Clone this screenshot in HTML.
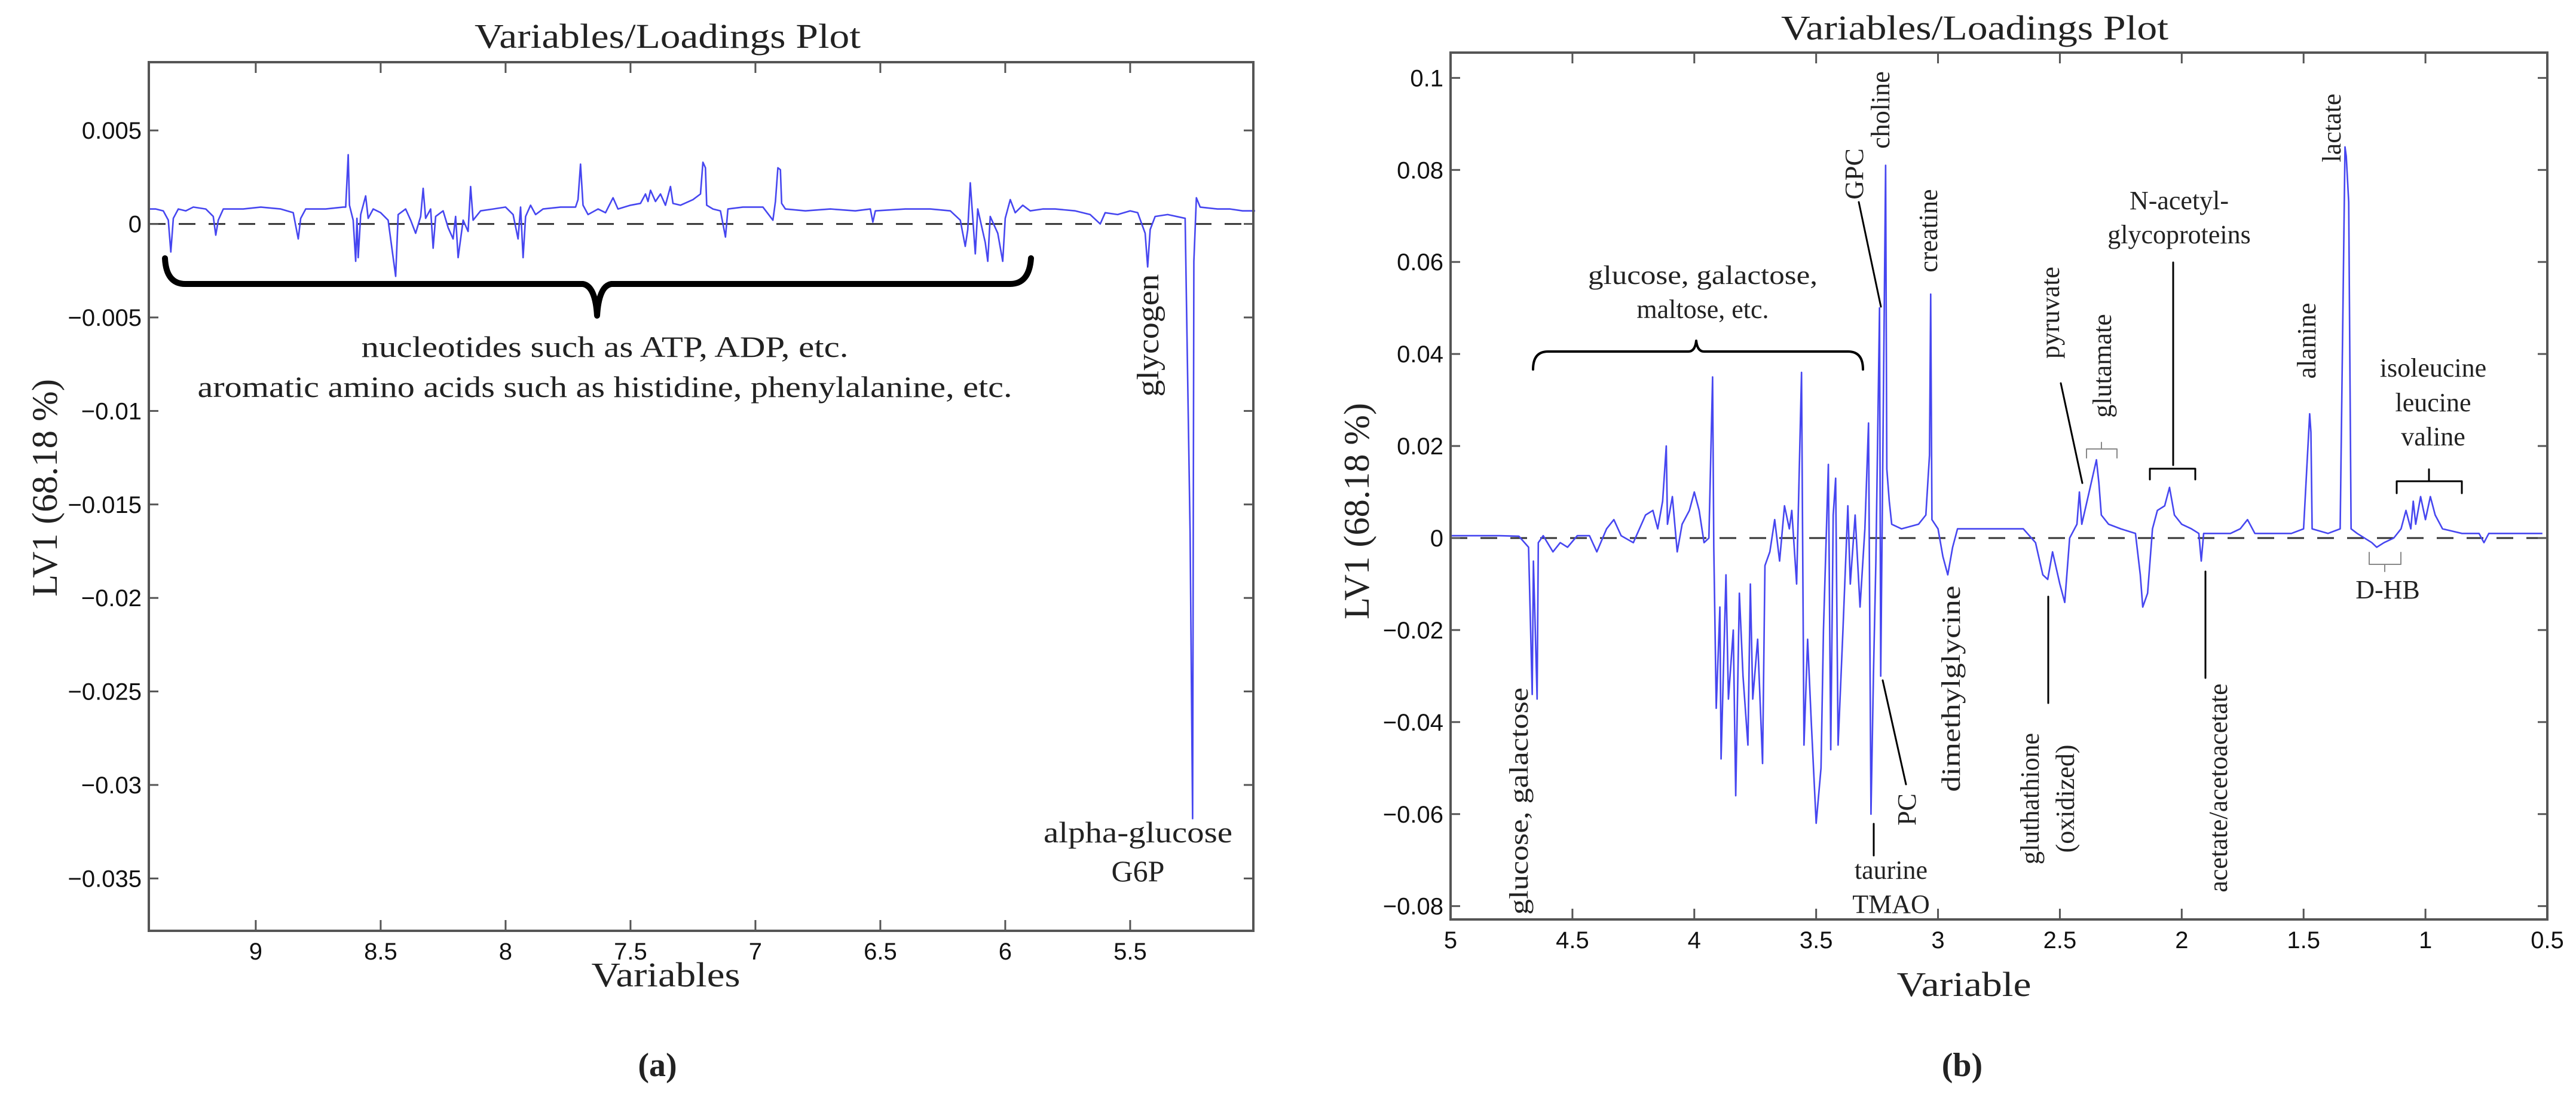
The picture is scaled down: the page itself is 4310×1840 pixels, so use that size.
<!DOCTYPE html>
<html><head><meta charset="utf-8"><style>
html,body{margin:0;padding:0;background:#fff;}
svg{display:block;}
.tk{font-family:"Liberation Sans",sans-serif;font-size:40px;fill:#111;}
.sf{font-family:"Liberation Serif",serif;fill:#222;}
</style></head><body>
<svg id="fig" width="4310" height="1840" viewBox="0 0 4310 1840" xmlns="http://www.w3.org/2000/svg">
<rect width="4310" height="1840" fill="#fff"/>
<g id="pa"></g>
<g id="pb"></g>
</svg>
<script>
const leftX=[9.43,9.40,9.37,9.35,9.34,9.33,9.31,9.28,9.25,9.20,9.17,9.16,9.15,9.13,9.05,8.98,8.90,8.85,8.83,8.82,8.80,8.72,8.65,8.64,8.63,8.625,8.61,8.60,8.595,8.59,8.58,8.56,8.55,8.53,8.50,8.47,8.44,8.43,8.40,8.38,8.36,8.34,8.33,8.32,8.30,8.29,8.28,8.25,8.23,8.21,8.20,8.19,8.17,8.15,8.14,8.13,8.10,8.05,8.00,7.97,7.95,7.94,7.93,7.92,7.90,7.88,7.85,7.78,7.72,7.71,7.70,7.69,7.67,7.63,7.60,7.57,7.55,7.50,7.46,7.44,7.43,7.42,7.40,7.38,7.36,7.34,7.33,7.30,7.25,7.22,7.21,7.20,7.195,7.17,7.14,7.12,7.11,7.05,6.97,6.93,6.92,6.91,6.90,6.895,6.88,6.80,6.70,6.60,6.54,6.53,6.52,6.40,6.30,6.22,6.18,6.16,6.15,6.14,6.13,6.12,6.11,6.08,6.07,6.06,6.03,6.01,6.00,5.98,5.96,5.93,5.90,5.85,5.80,5.72,5.66,5.62,5.60,5.55,5.50,5.47,5.44,5.43,5.42,5.40,5.35,5.28,5.26,5.25,5.245,5.235,5.22,5.15,5.10,5.05,5.00];
const leftY=[.0008,.0008,.0007,.0002,-.0015,.0003,.0008,.0007,.0009,.0008,.0004,-.0006,.0002,.0008,.0008,.0009,.0008,.0006,-.0008,.0003,.0008,.0008,.0009,.0009,.0037,.0010,.0002,-.002,.0003,-.0018,.0005,.0015,.0003,.0008,.0006,.0002,-.0028,.0005,.0008,.0002,-.0005,.0004,.0019,.0003,.0008,-.0013,.0004,.0007,-.0002,-.0008,.0004,-.0018,.0002,-.0004,.0020,.0002,.0007,.0008,.0009,.0005,-.0008,.0009,-.0018,.0004,.0010,.0005,.0008,.0009,.0009,.0013,.0032,.0010,.0005,.0008,.0006,.0014,.0008,.0010,.0011,.0016,.0012,.0018,.0012,.0016,.0010,.0020,.0011,.0010,.0013,.0016,.0033,.0030,.0010,.0008,.0007,-.0007,.0008,.0009,.0009,.0002,.0012,.0030,.0029,.0011,.0008,.0007,.0008,.0007,.0008,.0001,.0007,.0008,.0008,.0007,.0002,-.0012,-.0003,.0022,.0003,-.0016,.0008,-.0010,-.0020,.0004,-.0005,-.0020,.0003,.0013,.0006,.0010,.0007,.0008,.0008,.0007,.0005,.0000,.0006,.0005,.0007,.0006,-.0005,-.0023,-.0003,.0004,.0005,.0003,-.0165,-.0318,-.002,.0014,.0009,.0008,.0008,.0007,.0007];
const leftYTicks=[0.005,0,-0.005,-0.01,-0.015,-0.02,-0.025,-0.03,-0.035];
const leftYTickLabels=["0.005","0","\u22120.005","\u22120.01","\u22120.015","\u22120.02","\u22120.025","\u22120.03","\u22120.035"];
const leftXTicks=[9,8.5,8,7.5,7,6.5,6,5.5];
const leftXTickLabels=["9","8.5","8","7.5","7","6.5","6","5.5"];

const rightX=[5.00,4.80,4.72,4.68,4.665,4.66,4.645,4.64,4.62,4.58,4.55,4.52,4.48,4.43,4.40,4.36,4.33,4.30,4.25,4.20,4.17,4.15,4.13,4.115,4.11,4.09,4.07,4.05,4.02,4.00,3.98,3.96,3.94,3.925,3.92,3.91,3.895,3.89,3.87,3.86,3.84,3.83,3.815,3.80,3.78,3.77,3.76,3.74,3.72,3.71,3.69,3.67,3.65,3.63,3.61,3.60,3.58,3.56,3.55,3.535,3.52,3.50,3.48,3.47,3.45,3.44,3.43,3.42,3.41,3.39,3.37,3.36,3.34,3.32,3.30,3.285,3.275,3.265,3.255,3.24,3.235,3.215,3.21,3.20,3.19,3.15,3.08,3.05,3.035,3.03,3.025,3.00,2.98,2.96,2.94,2.92,2.80,2.65,2.60,2.57,2.55,2.53,2.50,2.48,2.46,2.43,2.42,2.41,2.38,2.35,2.34,2.33,2.30,2.25,2.19,2.17,2.16,2.14,2.12,2.10,2.07,2.05,2.03,2.00,1.96,1.93,1.92,1.91,1.80,1.76,1.73,1.70,1.55,1.50,1.475,1.47,1.465,1.40,1.35,1.33,1.325,1.315,1.305,1.28,1.22,1.20,1.17,1.13,1.10,1.08,1.06,1.05,1.04,1.02,1.00,0.98,0.96,0.93,0.85,0.78,0.76,0.74,0.52];
const rightY=[.0005,.0005,.0004,-.002,-.034,-.005,-.035,-.001,.0005,-.003,-.001,-.002,.0005,.0005,-.003,.002,.004,.0005,-.001,.005,.006,.002,.008,.020,.003,.009,-.003,.003,.006,.010,.006,-.001,.000,.035,-.002,-.037,-.015,-.048,-.008,-.035,-.020,-.056,-.012,-.030,-.045,-.010,-.035,-.022,-.049,-.006,-.003,.004,-.005,.007,.002,.006,-.010,.036,-.045,-.022,-.040,-.062,-.050,-.020,.016,-.046,.005,.013,-.045,-.020,.007,-.010,.005,-.015,.002,.025,-.060,-.030,-.005,.050,-.030,.081,.015,.008,.003,.002,.003,.005,.018,.053,.004,.002,-.004,-.008,-.002,.002,.002,.002,-.001,-.008,-.009,-.003,-.010,-.014,.000,.003,.010,.003,.010,.017,.012,.005,.003,.002,.001,-.008,-.015,-.012,.002,.006,.007,.011,.005,.003,.002,.001,-.005,.001,.001,.002,.004,.001,.001,.002,.027,.023,.002,.001,.002,.085,.083,.073,.002,.001,-.001,-.002,-.001,.000,.002,.006,.002,.008,.003,.009,.004,.009,.005,.002,.001,.001,-.001,.001,.001];
const rightYTicks=[0.1,0.08,0.06,0.04,0.02,0,-0.02,-0.04,-0.06,-0.08];
const rightYTickLabels=["0.1","0.08","0.06","0.04","0.02","0","\u22120.02","\u22120.04","\u22120.06","\u22120.08"];
const rightXTicks=[5,4.5,4,3.5,3,2.5,2,1.5,1,0.5];
const rightXTickLabels=["5","4.5","4","3.5","3","2.5","2","1.5","1","0.5"];

const NS="http://www.w3.org/2000/svg";
function mk(parent,tag,attrs,text){const e=document.createElementNS(NS,tag);for(const k in attrs)e.setAttribute(k,attrs[k]);if(text!==undefined)e.textContent=text;parent.appendChild(e);return e;}

function panel(g,box,xd,yd,X,Y,xt,xtl,yt,ytl,name){
  const sx=v=>box.l+(xd[0]-v)/(xd[0]-xd[1])*(box.r-box.l);
  const sy=v=>box.t+(yd[1]-v)/(yd[1]-yd[0])*(box.b-box.t);
  const z=mk(g,'line',{x1:box.l,x2:box.r,y1:sy(0),y2:sy(0),stroke:'#333','stroke-width':3,'stroke-dasharray':'28 22'});
  
  
  let d='';
  for(let i=0;i<X.length;i++){d+=(i?'L':'M')+sx(X[i]).toFixed(1)+' '+sy(Y[i]).toFixed(1);}
  const p=mk(g,'path',{d:d,fill:'none',stroke:'#4646f0','stroke-width':2.6,'stroke-linejoin':'round'});
  
  
  const fr=mk(g,'rect',{x:box.l,y:box.t,width:box.r-box.l,height:box.b-box.t,fill:'none',stroke:'#555','stroke-width':4});
  
  
  for(let i=0;i<yt.length;i++){
    const y=sy(yt[i]);
    mk(g,'line',{x1:box.l,x2:box.l+16,y1:y,y2:y,stroke:'#555','stroke-width':3});
    mk(g,'line',{x1:box.r,x2:box.r-16,y1:y,y2:y,stroke:'#555','stroke-width':3});
    const t=mk(g,'text',{x:box.l-12,y:y+14,'text-anchor':'end',class:'tk'},ytl[i]);
    
    
  }
  for(let i=0;i<xt.length;i++){
    const x=sx(xt[i]);
    mk(g,'line',{x1:x,x2:x,y1:box.b,y2:box.b-18,stroke:'#555','stroke-width':3});
    mk(g,'line',{x1:x,x2:x,y1:box.t,y2:box.t+18,stroke:'#555','stroke-width':3});
    const t=mk(g,'text',{x:x,y:box.b+48,'text-anchor':'middle',class:'tk'},xtl[i]);
    
    
  }
}
const ga=document.getElementById('pa'), gb=document.getElementById('pb');
panel(ga,{l:249,r:2097,t:104,b:1557},[9.428,5.007],[-0.0378,0.00865],leftX,leftY,leftXTicks,leftXTickLabels,leftYTicks,leftYTickLabels,'panel-a');
panel(gb,{l:2427,r:4262,t:88,b:1538},[5,0.5],[-0.0829,0.1055],rightX,rightY,rightXTicks,rightXTickLabels,rightYTicks,rightYTickLabels,'panel-b');

function txt(g,x,y,s,size,name,opts){
  opts=opts||{};
  const a={x:x,y:y,'text-anchor':'middle',class:'sf','font-size':size};
  if(opts.rot)a.transform='rotate(-90 '+x+' '+y+')';
  if(opts.len){a.textLength=opts.len;a.lengthAdjust='spacingAndGlyphs';}
  if(opts.fill)a.fill=opts.fill;
  if(opts.bold)a['font-weight']='bold';
  const t=mk(g,'text',a,s);
  
  
  return t;
}
function ln(g,pts,w,col,name){
  const p=mk(g,'path',{d:pts,fill:'none',stroke:col||'#000','stroke-width':w,'stroke-linecap':'round','stroke-linejoin':'round'});
  
  
}
// Panel a texts
txt(ga,1117,80,'Variables/Loadings Plot',58,'chart-title',{len:646});
txt(ga,95,816,'LV1 (68.18 %)',60,'y-axis-title',{rot:1,len:364});
txt(ga,1114,1650,'Variables',58,'x-axis-title',{len:249});
txt(ga,1100,1800,'(a)',56,'panel-label-a',{bold:1});
ln(ga,'M276 432 Q278 475 310 475 L975 475 Q996 478 999 528 Q1002 478 1023 475 L1690 475 Q1722 475 1725 432',10,'#000','nucleotide-brace');
txt(ga,1012,597,'nucleotides such as ATP, ADP, etc.',50,'nucleotides-annotation',{len:815});
txt(ga,1012,664,'aromatic amino acids such as histidine, phenylalanine, etc.',50,'aromatic-annotation',{len:1363});
txt(ga,1938,561,'glycogen',52,'glycogen-label',{rot:1,len:205});
txt(ga,1904,1409,'alpha-glucose',50,'alpha-glucose-label',{len:316});
txt(ga,1904,1474,'G6P',50,'g6p-label');
// Panel b texts
txt(gb,3304,66,'Variables/Loadings Plot',58,'chart-title',{len:648});
txt(gb,2290,855,'LV1 (68.18 %)',60,'y-axis-title',{rot:1,len:362});
txt(gb,3286,1666,'Variable',58,'x-axis-title',{len:225});
txt(gb,3283,1800,'(b)',56,'panel-label-b',{bold:1});
const F=44;
txt(gb,2556,1340,'glucose, galactose',F,'glucose-galactose-label',{rot:1,len:380});
ln(gb,'M2565 618 Q2565 588 2590 588 L2825 588 Q2836 588 2838 570 Q2840 588 2851 588 L3092 588 Q3117 588 3117 618',4,'#000','sugars-brace');
txt(gb,2849,475,'glucose, galactose,',F,'sugars-label-1',{len:384});
txt(gb,2849,532,'maltose, etc.',F,'sugars-label-2');
txt(gb,3117,291,'GPC',F,'gpc-label',{rot:1});
ln(gb,'M3110 338 L3147 513',3,'#000','gpc-leader');
txt(gb,3161,184,'choline',F,'choline-label',{rot:1});
txt(gb,3241,386,'creatine',F,'creatine-label',{rot:1});
txt(gb,3164,1470,'taurine',F,'taurine-label');
txt(gb,3164,1527,'TMAO',F,'tmao-label');
ln(gb,'M3135 1378 L3135 1431',3,'#000','taurine-leader');
txt(gb,3205,1354,'PC',F,'pc-label',{rot:1});
ln(gb,'M3150 1138 L3189 1312',3,'#000','pc-leader');
txt(gb,3279,1152,'dimethylglycine',F,'dimethylglycine-label',{rot:1,len:345});
txt(gb,3411,1336,'gluthathione',F,'glutathione-label',{rot:1});
txt(gb,3470,1336,'(oxidized)',F,'oxidized-label',{rot:1});
ln(gb,'M3427 998 L3427 1176',3,'#000','glutathione-leader');
txt(gb,3445,523,'pyruvate',F,'pyruvate-label',{rot:1});
ln(gb,'M3448 641 L3484 808',3,'#000','pyruvate-leader');
txt(gb,3532,612,'glutamate',F,'glutamate-label',{rot:1});
ln(gb,'M3491 766 L3491 751 L3542 751 L3542 766 M3516 751 L3516 740',2,'#888','glutamate-bracket');
txt(gb,3646,350,'N-acetyl-',F,'n-acetyl-label');
txt(gb,3646,407,'glycoproteins',F,'glycoproteins-label');
ln(gb,'M3636 439 L3636 778',3,'#000','glycoproteins-leader');
ln(gb,'M3597 802 L3597 784 L3673 784 L3673 802',3,'#000','glycoproteins-bracket');
txt(gb,3726,1318,'acetate/acetoacetate',F,'acetate-label',{rot:1});
ln(gb,'M3690 956 L3690 1134',3,'#000','acetate-leader');
txt(gb,3874,570,'alanine',F,'alanine-label',{rot:1});
txt(gb,3916,214,'lactate',F,'lactate-label',{rot:1});
txt(gb,4071,630,'isoleucine',F,'isoleucine-label');
txt(gb,4071,688,'leucine',F,'leucine-label');
txt(gb,4071,745,'valine',F,'valine-label');
ln(gb,'M4010 825 L4010 805 L4119 805 L4119 825 M4064 805 L4064 785',3,'#000','bcaa-bracket');
txt(gb,3995,1001,'D-HB',F,'dhb-label',{fill:'#555'});
ln(gb,'M3964 924 L3964 944 L4017 944 L4017 924 M3990 944 L3990 956',2,'#888','dhb-bracket');
</script>
</body></html>
